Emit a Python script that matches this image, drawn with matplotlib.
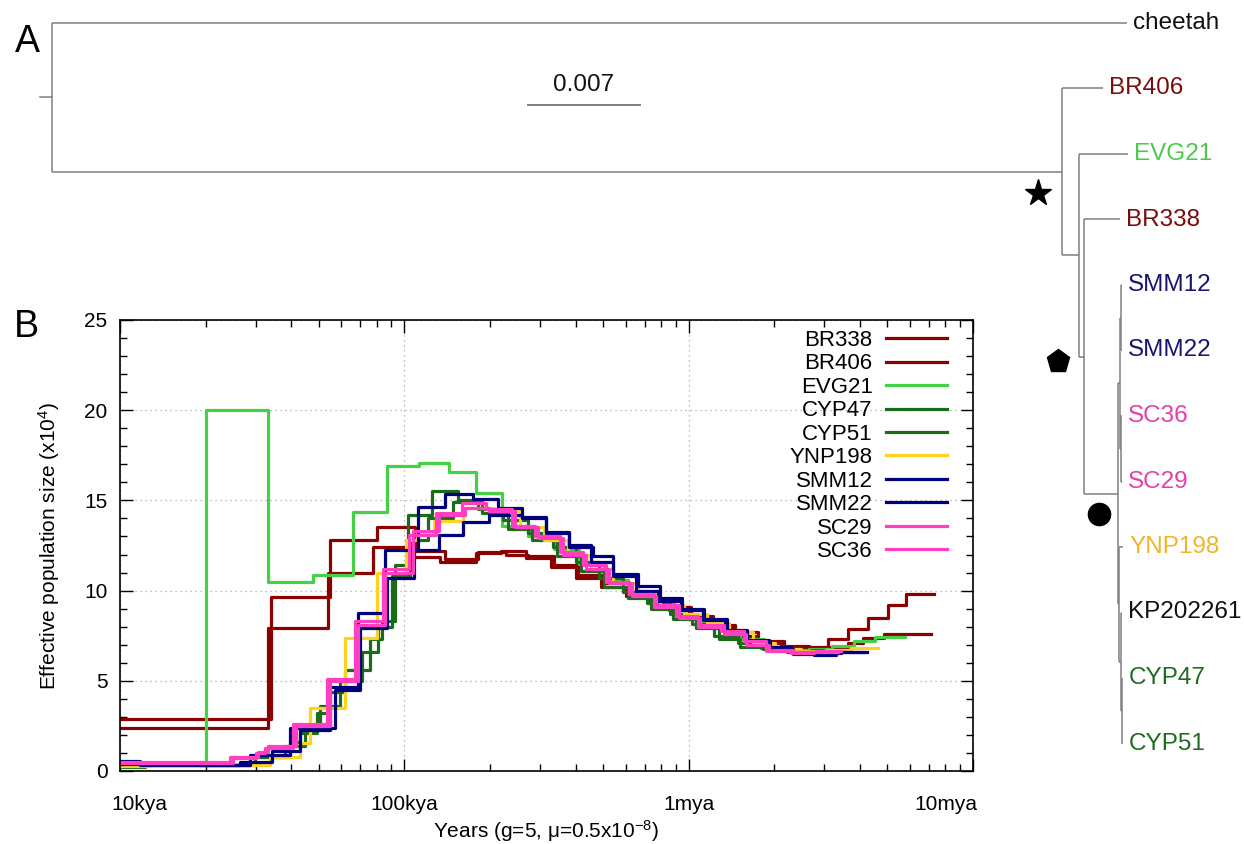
import re
import matplotlib
matplotlib.use('Agg')
import matplotlib.pyplot as plt
from matplotlib.ticker import LogLocator, NullFormatter, MultipleLocator
from matplotlib.transforms import ScaledTranslation

plt.rcParams['font.family'] = ['Liberation Sans', 'DejaVu Sans']
plt.rcParams['mathtext.fontset'] = 'custom'
plt.rcParams['mathtext.rm'] = 'Liberation Sans'
plt.rcParams['mathtext.it'] = 'Liberation Sans:italic'
plt.rcParams['mathtext.bf'] = 'Liberation Sans:bold'

# ---------------- Panel A: tree (branch lengths, subst./site) ----------------
TREE_NEWICK = ("(cheetah:0.0672,(BR406:0.00256,(EVG21:0.00306,(BR338:0.00225,"
               "(((SMM12:0.00006,SMM22:0.00006):0.00006,(SC36:0.00006,SC29:0.00006):0.00006):0.000125,"
               "(YNP198:0.0003,(KP202261:0.00006,(CYP47:0.00003,CYP51:0.00003):0.00006):0.000125):0.00006)"
               ":0.00213):0.00031):0.00106):0.0631);")
SCALE_BAR = 0.007
ROOT_STUB = 0.00075
TIP_COLORS = {
    'cheetah': '#111111', 'BR406': '#7a0c0c', 'EVG21': '#4cc94c', 'BR338': '#7a0c0c',
    'SMM12': '#16166e', 'SMM22': '#16166e', 'SC36': '#e540a6', 'SC29': '#e540a6',
    'YNP198': '#f2b52a', 'KP202261': '#111111', 'CYP47': '#1f6b1f', 'CYP51': '#1f6b1f',
}

# ---------------- Panel B: PSMC (years, Ne x 1e4) ----------------
LABELS = ['BR338', 'BR406', 'EVG21', 'CYP47', 'CYP51', 'YNP198', 'SMM12', 'SMM22', 'SC29', 'SC36']
COLORS = ['#8b0000', '#8b0000', '#46d046', '#1a6b1a', '#1a6b1a', '#ffd21f', '#00007f', '#00007f', '#ff3fc0', '#ff3fc0']
XTICKS = [1e4, 1e5, 1e6, 1e7]
XTICK_LABELS = ['10kya', '100kya', '1mya', '10mya']
YTICKS = [0, 5, 10, 15, 20, 25]

BR338_T = [1.0e4, 3.40e4, 5.49e4, 8.03e4, 1.09e5, 1.39e5, 1.81e5, 2.27e5, 2.73e5, 3.35e5, 4.07e5, 5.02e5,
           6.10e5, 7.35e5, 8.65e5, 1.02e6, 1.22e6, 1.46e6, 1.76e6, 2.16e6, 2.65e6, 3.09e6, 3.63e6, 4.27e6,
           5.02e6, 5.81e6, 7.29e6]
BR338_NE = [2.9, 9.65, 12.8, 13.5, 12.2, 11.75, 12.15, 12.0, 11.9, 11.4, 10.85, 10.4, 9.9, 9.5, 9.1, 8.6,
            8.1, 7.7, 7.2, 6.95, 6.9, 7.3, 7.85, 8.5, 9.2, 9.8]

BR406_T = [1.0e4, 3.32e4, 5.40e4, 7.78e4, 1.03e5, 1.34e5, 1.78e5, 2.18e5, 2.67e5, 3.27e5, 4.00e5, 4.90e5,
           6.00e5, 7.23e5, 8.51e5, 1.00e6, 1.19e6, 1.44e6, 1.73e6, 2.11e6, 2.58e6, 3.04e6, 3.63e6, 4.10e6,
           4.86e6, 7.11e6]
BR406_NE = [2.4, 7.9, 11.0, 12.4, 11.85, 11.6, 12.1, 12.2, 11.8, 11.3, 10.7, 10.2, 9.7, 9.3, 8.9, 8.45,
            8.0, 7.5, 7.1, 6.8, 6.75, 6.9, 7.1, 7.4, 7.6]

EVG21_T = [1.0e4, 1.28e4, 2.01e4, 3.32e4, 4.78e4, 6.61e4, 8.71e4, 1.13e5, 1.43e5, 1.79e5, 2.21e5, 2.73e5,
           3.35e5, 4.10e5, 5.02e5, 6.10e5, 7.35e5, 8.86e5, 1.07e6, 1.28e6, 1.52e6, 1.84e6, 2.21e6, 2.65e6,
           3.19e6, 3.81e6, 4.52e6, 5.76e6]
EVG21_NE = [0.45, 0.4, 20.0, 10.5, 10.85, 14.35, 16.9, 17.1, 16.6, 15.4, 13.6, 13.0, 12.3, 11.5, 10.6, 9.9,
            9.3, 8.7, 8.2, 7.8, 7.3, 6.9, 6.7, 6.75, 6.95, 7.2, 7.45]

CYP47_T = [1.0e4, 1.18e4, 2.99e4, 3.97e4, 4.30e4, 4.94e4, 5.40e4, 6.20e4, 7.59e4, 8.36e4, 9.30e4, 1.03e5,
           1.25e5, 1.54e5, 1.88e5, 2.32e5, 2.82e5, 3.43e5, 4.17e5, 5.02e5, 6.10e5, 7.35e5, 8.78e5, 1.06e6,
           1.28e6, 1.52e6, 1.82e6, 2.21e6, 2.69e6, 3.21e6]
CYP47_NE = [0.3, 0.35, 0.8, 1.6, 2.1, 3.2, 4.4, 5.6, 7.3, 8.3, 11.4, 14.2, 15.5, 15.0, 14.3, 13.4, 12.8,
            11.9, 11.1, 10.2, 9.6, 9.0, 8.4, 7.9, 7.3, 6.9, 6.75, 6.6, 6.7]

CYP51_T = [1.0e4, 1.22e4, 2.87e4, 3.81e4, 4.48e4, 5.06e4, 5.95e4, 7.11e4, 8.10e4, 9.07e4, 1.05e5, 1.21e5,
           1.48e5, 1.82e5, 2.23e5, 2.73e5, 3.32e5, 4.00e5, 4.82e5, 5.86e5, 7.11e5, 8.57e5, 1.03e6, 1.23e6,
           1.49e6, 1.79e6, 2.16e6, 2.60e6, 3.11e6, 3.72e6]
CYP51_NE = [0.2, 0.35, 0.75, 1.4, 2.3, 3.6, 5.0, 6.6, 8.0, 10.8, 12.8, 14.0, 14.9, 14.5, 13.9, 13.2, 12.4,
            11.6, 10.7, 9.9, 9.3, 8.7, 8.15, 7.5, 7.1, 6.8, 6.65, 6.6, 6.7]

YNP198_T = [1.0e4, 1.28e4, 3.38e4, 4.30e4, 4.67e4, 6.20e4, 8.03e4, 1.01e5, 1.11e5, 1.27e5, 1.61e5, 2.06e5,
            2.56e5, 3.09e5, 3.75e5, 4.52e5, 5.44e5, 6.61e5, 7.96e5, 9.60e5, 1.16e6, 1.39e6, 1.68e6, 2.02e6,
            2.48e6, 3.04e6, 3.72e6, 4.63e6]
YNP198_NE = [0.3, 0.35, 0.8, 1.55, 3.5, 7.4, 11.0, 12.8, 13.2, 13.85, 14.6, 14.4, 13.5, 12.8, 12.0, 11.2,
             10.4, 9.8, 9.2, 8.7, 8.2, 7.7, 7.1, 6.75, 6.65, 6.7, 6.8]

SMM12_T = [1.0e4, 1.18e4, 2.65e4, 3.43e4, 4.30e4, 5.49e4, 6.89e4, 8.58e4, 1.12e5, 1.39e5, 1.74e5, 2.13e5,
           2.60e5, 3.14e5, 3.78e5, 4.59e5, 5.44e5, 6.61e5, 7.91e5, 9.45e5, 1.13e6, 1.36e6, 1.60e6, 1.91e6,
           2.29e6, 2.75e6, 3.29e6, 4.24e6]
SMM12_NE = [0.55, 0.35, 0.5, 1.1, 2.3, 4.65, 8.75, 12.25, 14.65, 15.35, 15.1, 14.6, 14.0, 13.25, 12.4,
            11.9, 10.9, 10.25, 9.6, 9.0, 8.4, 7.6, 7.25, 6.85, 6.6, 6.45, 6.6]

SMM22_T = [1.0e4, 1.91e4, 2.87e4, 3.97e4, 5.71e4, 7.00e4, 8.71e4, 1.08e5, 1.32e5, 1.61e5, 1.98e5, 2.60e5,
           3.14e5, 3.78e5, 4.52e5, 5.40e5, 6.51e5, 7.78e5, 9.37e5, 1.12e6, 1.34e6, 1.61e6, 1.94e6, 2.32e6,
           2.82e6, 3.43e6, 4.10e6]
SMM22_NE = [0.4, 0.35, 0.9, 2.4, 4.5, 7.9, 10.7, 12.25, 13.1, 13.8, 14.2, 14.1, 13.2, 12.5, 11.6, 10.8,
            10.0, 9.45, 8.9, 8.35, 7.8, 7.2, 6.75, 6.5, 6.55, 6.6]

SC29_T = [1.0e4, 2.50e4, 3.01e4, 3.24e4, 4.07e4, 5.36e4, 6.72e4, 8.44e4, 1.04e5, 1.29e5, 1.60e5, 1.93e5,
          2.40e5, 2.89e5, 3.54e5, 4.24e5, 5.10e5, 6.15e5, 7.53e5, 9.00e5, 1.08e6, 1.30e6, 1.56e6, 1.87e6,
          2.29e6, 2.75e6, 3.35e6]
SC29_NE = [0.45, 0.7, 1.0, 1.3, 2.6, 5.1, 8.3, 11.2, 13.1, 14.3, 14.85, 14.5, 13.6, 13.0, 12.15, 11.4,
           10.5, 9.8, 9.1, 8.6, 8.0, 7.75, 7.2, 6.65, 6.55, 6.6]

SC36_T = [1.0e4, 2.44e4, 3.06e4, 3.32e4, 4.17e4, 5.49e4, 6.89e4, 8.58e4, 1.07e5, 1.32e5, 1.64e5, 1.98e5,
          2.46e5, 2.96e5, 3.60e5, 4.34e5, 5.23e5, 6.30e5, 7.65e5, 9.22e5, 1.10e6, 1.33e6, 1.59e6, 1.91e6,
          2.32e6, 2.80e6, 3.43e6]
SC36_NE = [0.5, 0.75, 1.05, 1.4, 2.5, 5.0, 8.1, 11.0, 13.3, 14.2, 14.6, 14.4, 13.5, 12.9, 12.0, 11.2,
           10.4, 9.7, 9.2, 8.5, 8.1, 7.6, 7.0, 6.7, 6.6, 6.65]

SERIES_T = [BR338_T, BR406_T, EVG21_T, CYP47_T, CYP51_T, YNP198_T, SMM12_T, SMM22_T, SC29_T, SC36_T]
SERIES_NE = [BR338_NE, BR406_NE, EVG21_NE, CYP47_NE, CYP51_NE, YNP198_NE, SMM12_NE, SMM22_NE, SC29_NE, SC36_NE]


# ---------------- helpers ----------------
def parse_newick(s):
    s = s.strip().rstrip(';')
    pos = 0

    def node():
        nonlocal pos
        children = []
        if s[pos] == '(':
            pos += 1
            while True:
                children.append(node())
                if s[pos] == ',':
                    pos += 1
                    continue
                if s[pos] == ')':
                    pos += 1
                    break
        m = re.match(r'([^:,()]*)(?::([0-9.eE+-]+))?', s[pos:])
        pos += m.end()
        return {'name': m.group(1), 'len': float(m.group(2)) if m.group(2) else 0.0, 'children': children}

    return node()


def layout(tree):
    tips = []

    def walk(n, x0):
        n['x'] = x0 + n['len']
        if not n['children']:
            n['y'] = len(tips)
            tips.append(n)
        else:
            for c in n['children']:
                walk(c, n['x'])
            n['y'] = 0.5 * (n['children'][0]['y'] + n['children'][-1]['y'])

    tree['len'] = 0.0
    walk(tree, 0.0)
    return tips


W, H = 1244, 844
fig = plt.figure(figsize=(W / 100, H / 100), dpi=100)

# ---------------- Panel A ----------------
PX_PER_UNIT = 112 / SCALE_BAR
ROOT_PX, TIP0_PX, TIP_STEP_PX = 52, 23, 65.5
axA = fig.add_axes([0, 0, 1, 1], zorder=0)
axA.set_xlim(-ROOT_PX / PX_PER_UNIT, (W - ROOT_PX) / PX_PER_UNIT)
axA.set_ylim((H - TIP0_PX) / TIP_STEP_PX, -TIP0_PX / TIP_STEP_PX)
axA.axis('off')

tree = parse_newick(TREE_NEWICK)
tips = layout(tree)
LC, LW = '#808080', 1.1


def draw(n):
    if n['children']:
        ys = [c['y'] for c in n['children']]
        axA.plot([n['x'], n['x']], [min(ys), max(ys)], color=LC, lw=LW, solid_capstyle='butt')
        for c in n['children']:
            axA.plot([n['x'], c['x']], [c['y'], c['y']], color=LC, lw=LW, solid_capstyle='butt')
            draw(c)


draw(tree)
axA.plot([-ROOT_STUB, 0], [tree['y'], tree['y']], color=LC, lw=LW)
for t in tips:
    axA.annotate(t['name'], (t['x'], t['y']), xytext=(4.5, 0), textcoords='offset points',
                 ha='left', va='center', fontsize=17.5, color=TIP_COLORS[t['name']])

# node support symbols (offset from nodes)
pnode = tree['children'][1]
rnode = pnode['children'][1]['children'][1]
snode = rnode['children'][1]
for nd, mk, ms, dx, dy in [(pnode, '*', 20, -24, -21), (rnode, 'p', 17, -26, -4), (snode, 'o', 16, -19, -20)]:
    tr = axA.transData + ScaledTranslation(dx / 100, dy / 100, fig.dpi_scale_trans)
    axA.plot([nd['x']], [nd['y']], marker=mk, ms=ms, color='black', transform=tr, ls='none')

# scale bar
sb_x0 = (528 - ROOT_PX) / PX_PER_UNIT
sb_y = (105 - TIP0_PX) / TIP_STEP_PX
axA.plot([sb_x0, sb_x0 + SCALE_BAR], [sb_y, sb_y], color=LC, lw=1.4)
axA.text(sb_x0 + SCALE_BAR / 2, (85 - TIP0_PX) / TIP_STEP_PX, f'{SCALE_BAR:g}', ha='center', va='center',
         fontsize=17.5, color='#111111')

fig.text(27 / W, 1 - 42 / H, 'A', fontsize=27, ha='center', va='center')
fig.text(26 / W, 1 - 327 / H, 'B', fontsize=27, ha='center', va='center')

# ---------------- Panel B ----------------
ax = fig.add_axes([120 / W, 1 - 771 / H, 853 / W, 451 / H], zorder=1)
ax.patch.set_alpha(0)
for lab, col, t, ne in zip(LABELS, COLORS, SERIES_T, SERIES_NE):
    ax.step(t, ne + [ne[-1]], where='post', color=col, lw=2.3, label=lab)

ax.set_xscale('log')
ax.set_xlim(1e4, 1e7)
ax.set_ylim(0, 25)
ax.set_xticks(XTICKS)
ax.set_xticklabels(XTICK_LABELS)
ax.xaxis.set_minor_locator(LogLocator(base=10, subs=range(2, 10)))
ax.xaxis.set_minor_formatter(NullFormatter())
ax.set_yticks(YTICKS)
ax.yaxis.set_minor_locator(MultipleLocator(1))
ax.tick_params(which='both', direction='in', top=True, right=True, width=1)
ax.tick_params(which='major', length=9, labelsize=15)
ax.tick_params(which='minor', length=5)
ax.tick_params(axis='x', which='major', pad=17)
ax.tick_params(axis='y', which='major', pad=9)
ax.grid(True, which='major', color='#a8a8a8', ls=(0, (1, 3)), lw=0.9)
for sp in ax.spines.values():
    sp.set_linewidth(1.2)

xl = ax.get_xticklabels()
xl[0].set_transform(xl[0].get_transform() + ScaledTranslation(0.19, 0, fig.dpi_scale_trans))
xl[-1].set_transform(xl[-1].get_transform() + ScaledTranslation(-0.27, 0, fig.dpi_scale_trans))

ax.set_xlabel('Years (g=5, μ=0.5x10$^{-8}$)', fontsize=15, labelpad=3)
ax.set_ylabel('Effective population size (x10$^{4}$)', fontsize=15, labelpad=16)

ax.legend(loc='upper right', bbox_to_anchor=((947 - 120) / 853, (771 - 330) / 451), frameon=False,
          markerfirst=False, fontsize=16, handlelength=2.75, handletextpad=0.6, labelspacing=0.11,
          borderpad=0, borderaxespad=0)

fig.savefig('out.png', dpi=100)
